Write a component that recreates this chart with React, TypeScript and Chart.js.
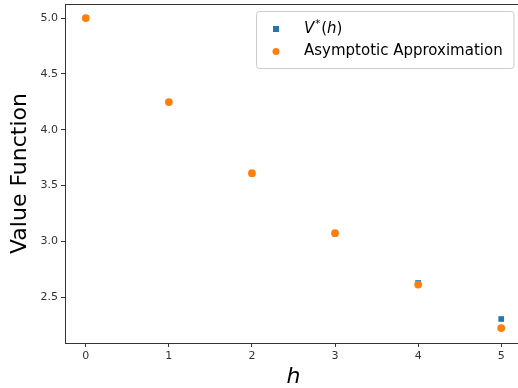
import React, { useEffect, useRef } from "react";
import { Chart, registerables } from "chart.js";

Chart.register(...registerables);

const hValues = [0, 1, 2, 3, 4, 5];
const vStar = [5.0, 4.247, 3.61, 3.072, 2.626, 2.303];
const asymptotic = [5.0, 4.247, 3.61, 3.072, 2.612, 2.222];
const xTicks = [0, 1, 2, 3, 4, 5];
const yTicks = [2.5, 3.0, 3.5, 4.0, 4.5, 5.0];
const labelV = "V*(h)";
const labelApprox = "Asymptotic Approximation";

const BLUE = "#1f77b4";
const ORANGE = "#ff7f0e";
const FONT = "'DejaVu Sans', sans-serif";

const framePlugin = {
  id: "frame",
  afterDraw(chart: any) {
    const { ctx, chartArea } = chart;
    const { left, top, right } = chartArea;
    ctx.save();
    ctx.strokeStyle = "#333";
    ctx.lineWidth = 1;
    ctx.beginPath();
    ctx.moveTo(left, top + 0.5);
    ctx.lineTo(right, top + 0.5);
    ctx.stroke();

    // legend
    const bx = 256.5, by = 11.5, bw = 257.5, bh = 57, r = 3;
    ctx.fillStyle = "rgba(255,255,255,0.8)";
    ctx.strokeStyle = "#cccccc";
    ctx.beginPath();
    ctx.moveTo(bx + r, by);
    ctx.lineTo(bx + bw - r, by);
    ctx.arcTo(bx + bw, by, bx + bw, by + r, r);
    ctx.lineTo(bx + bw, by + bh - r);
    ctx.arcTo(bx + bw, by + bh, bx + bw - r, by + bh, r);
    ctx.lineTo(bx + r, by + bh);
    ctx.arcTo(bx, by + bh, bx, by + bh - r, r);
    ctx.lineTo(bx, by + r);
    ctx.arcTo(bx, by, bx + r, by, r);
    ctx.closePath();
    ctx.fill();
    ctx.stroke();

    ctx.fillStyle = BLUE;
    ctx.fillRect(273, 26, 6, 6);
    ctx.fillStyle = ORANGE;
    ctx.beginPath();
    ctx.arc(276, 51.5, 3.5, 0, Math.PI * 2);
    ctx.fill();

    ctx.fillStyle = "#000";
    ctx.textBaseline = "middle";
    const base = labelV;
    let x = 304;
    const y1 = 29;
    ctx.font = `italic 15px ${FONT}`;
    ctx.fillText(base[0], x, y1);
    x += ctx.measureText(base[0]).width + 1;
    ctx.font = `10px ${FONT}`;
    ctx.fillText(base[1], x, y1 - 5);
    x += ctx.measureText(base[1]).width + 1;
    ctx.font = `15px ${FONT}`;
    ctx.fillText(base[2], x, y1);
    x += ctx.measureText(base[2]).width;
    ctx.font = `italic 15px ${FONT}`;
    ctx.fillText(base[3], x, y1);
    x += ctx.measureText(base[3]).width;
    ctx.font = `15px ${FONT}`;
    ctx.fillText(base[4], x, y1);

    ctx.font = `15px ${FONT}`;
    ctx.fillText(labelApprox, 304, 51);
    ctx.restore();
  },
};

const zeroPad = (axis: any) => {
  axis.paddingTop = 0;
  axis.paddingBottom = 0;
  axis.paddingLeft = 0;
  axis.paddingRight = 0;
};

export default function App() {
  const ref = useRef<HTMLCanvasElement>(null);
  useEffect(() => {
    if (!ref.current) return;
    const chart = new Chart(ref.current, {
      type: "scatter",
      data: {
        datasets: [
          {
            label: labelV,
            data: hValues.map((h, i) => ({ x: h, y: vStar[i] })),
            pointStyle: "rect",
            pointRadius: 4.0,
            pointHoverRadius: 4.0,
            backgroundColor: BLUE,
            borderColor: BLUE,
            borderWidth: 0,
            order: 2,
          },
          {
            label: labelApprox,
            data: hValues.map((h, i) => ({ x: h, y: asymptotic[i] })),
            pointStyle: "circle",
            pointRadius: 3.9,
            pointHoverRadius: 3.9,
            backgroundColor: ORANGE,
            borderColor: ORANGE,
            borderWidth: 0,
            order: 1,
          },
        ],
      },
      options: {
        responsive: false,
        animation: false,
        layout: { padding: { top: 4, right: 1, left: 0, bottom: 0 } },
        plugins: { legend: { display: false }, tooltip: { enabled: false } },
        scales: {
          x: {
            type: "linear",
            min: -0.25,
            max: 5.25,
            afterBuildTicks: (axis: any) => {
              axis.ticks = xTicks.map((v) => ({ value: v }));
            },
            afterFit: (axis: any) => {
              axis.height = 45;
              zeroPad(axis);
            },
            grid: { display: true, drawOnChartArea: false, drawTicks: true, tickLength: 4, color: "#333" },
            border: { display: true, color: "#333" },
            ticks: { color: "#333", font: { family: FONT, size: 11 }, padding: 3, maxRotation: 0 },
            title: {
              display: true,
              text: "h",
              color: "#000",
              font: { family: FONT, size: 22, style: "italic" },
              padding: { top: 0, bottom: -2 },
            },
          },
          y: {
            type: "linear",
            min: 2.088,
            max: 5.126,
            afterBuildTicks: (axis: any) => {
              axis.ticks = yTicks.map((v) => ({ value: v }));
            },
            afterFit: (axis: any) => {
              axis.width = 65;
              zeroPad(axis);
            },
            grid: { display: true, drawOnChartArea: false, drawTicks: true, tickLength: 4, color: "#333" },
            border: { display: true, color: "#333" },
            ticks: {
              color: "#333",
              font: { family: FONT, size: 11 },
              padding: 3,
              callback: (v: any) => Number(v).toFixed(1),
            },
            title: {
              display: true,
              text: "Value Function",
              color: "#000",
              font: { family: FONT, size: 22 },
              padding: { top: 7, bottom: 0 },
            },
          },
        },
      },
      plugins: [framePlugin],
    });
    return () => chart.destroy();
  }, []);
  return (
    <div style={{ position: "absolute", left: 0, top: 0, width: 518, height: 388, overflow: "hidden", background: "#fff" }}>
      <canvas ref={ref} width={526} height={388} style={{ display: "block" }} />
    </div>
  );
}
